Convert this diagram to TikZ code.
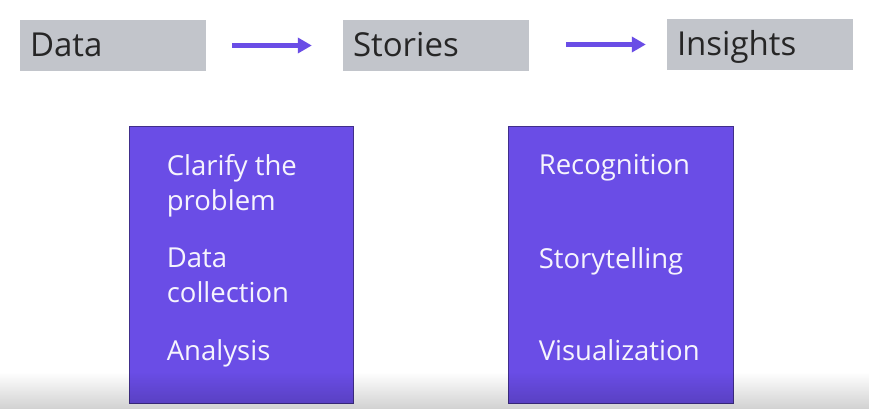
\documentclass[tikz,border=0pt]{standalone}
\usepackage{fontspec}
\setmainfont{Open Sans}
\usetikzlibrary{positioning,arrows.meta,fadings}
\definecolor{stagegrey}{HTML}{C2C5CB}
\definecolor{stepviolet}{HTML}{6A4DE6}
\definecolor{inkgrey}{HTML}{262626}
\tikzstyle{stage} = [fill=stagegrey, minimum width=186pt, minimum height=51pt, inner xsep=10pt,
    inner ysep=0pt, text height=23pt, text depth=0pt,
    text width=166pt, align=left, text=inkgrey, font=\fontsize{33}{38}\selectfont]
\tikzstyle{steps} = [fill=stepviolet, draw=stepviolet!60!black, line width=0.8pt,
    minimum width=224pt, minimum height=277pt]
\tikzstyle{item} = [anchor=north west, inner sep=0pt, align=left, text=white!94!stepviolet,
    font=\fontsize{27.5}{35}\selectfont]
\tikzstyle{flow} = [stepviolet, line width=4.5pt, -{Triangle[length=14pt,width=15pt]}]

\begin{document}
\begin{tikzpicture}[x=1pt, y=-1pt]
    \useasboundingbox (0,0) rectangle (870,409);
    \fill[white] (0,0) rectangle (870,409);

    % top row
    \node [stage] (data) at (113,45.5) {Data};
    \node [stage] (stories) at (436,45.5) {Stories};
    \node [stage] (insights) at (760,44.5) {Insights};

    \draw [flow, shorten <=26pt, shorten >=31pt] (data.east) -- (stories.west);
    \draw [flow, shorten <=37pt, shorten >=21pt] (stories.east |- insights.west) -- (insights.west);

    % the two boxes below
    \node [steps] (left) at (241,264.5) {};
    \node [steps, minimum width=225pt] (right) at (620.5,264.5) {};

    \node [item] (clarify) at ([xshift=38pt,yshift=-29pt]left.north west) {Clarify the\\problem};
    \node [item] (collect) at ([xshift=38pt,yshift=-122pt]left.north west) {Data\\collection};
    \node [item] (analysis) at ([xshift=38pt,yshift=-214pt]left.north west) {Analysis};

    \node [item] (recog) at ([xshift=31pt,yshift=-29pt]right.north west) {Recognition};
    \node [item] (story) at ([xshift=31pt,yshift=-122pt]right.north west) {Storytelling};
    \node [item] (visual) at ([xshift=31pt,yshift=-214pt]right.north west) {Visualization};

    % fade at the bottom edge
    \fill [black, opacity=0.18, path fading=north] (0,372) rectangle (870,409);
\end{tikzpicture}
\end{document}
